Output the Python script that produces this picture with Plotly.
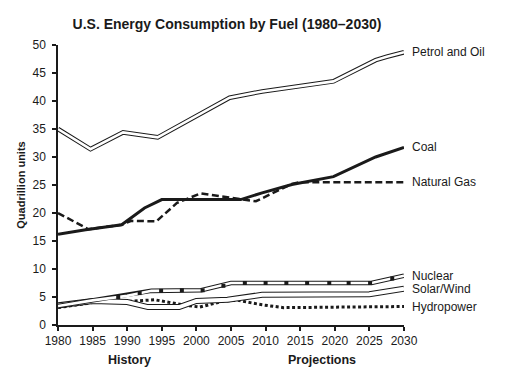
import plotly.graph_objects as go

# ---- data ----
petrol_years = [1980, 1984.7, 1989.4, 1994.4, 2004.8, 2009.5, 2019.8, 2025.9, 2027.5, 2030]
petrol_vals = [35.0, 31.4, 34.4, 33.5, 40.6, 41.7, 43.5, 47.3, 47.9, 48.7]

coal_years = [1980, 1984, 1989.2, 1992.5, 1995, 2006.4, 2009.5, 2013.8, 2019.8, 2025.9, 2030]
coal_vals = [16.2, 17.0, 17.9, 20.9, 22.4, 22.4, 23.6, 25.1, 26.5, 30.0, 31.7]

gas_years = [1980, 1984.4, 1989.2, 1990.6, 1994.2, 1997.2, 2000.6, 2006.7, 2008.6, 2013.8, 2015, 2030]
gas_vals = [20.0, 17.1, 17.9, 18.6, 18.5, 21.8, 23.5, 22.4, 22.1, 25.2, 25.5, 25.5]

nuclear_years = [1980, 1985, 1990, 1993.5, 2000.7, 2005, 2025.3, 2030]
nuclear_vals = [3.4, 4.4, 5.2, 6.1, 6.2, 7.5, 7.5, 8.8]
nuclear_mark_years = [1988.7, 1991.8, 1994.9, 1997.9, 2000.9, 2003.9, 2007, 2010, 2013,
                      2016, 2019.2, 2022, 2025.1, 2028.3]
nuclear_mark_vals = [5.0, 5.7, 6.1, 6.2, 6.2, 7.0, 7.5, 7.5, 7.5, 7.5, 7.5, 7.5, 7.5, 8.3]

solar_years = [1980, 1985, 1990, 1993, 1997.5, 2000, 2004.5, 2009.5, 2025, 2030]
solar_vals = [3.5, 4.3, 4.1, 3.2, 3.2, 4.3, 4.5, 5.4, 5.5, 6.5]

hydro_years = [1980, 1985, 1990, 1994, 1998, 2000.5, 2004, 2006, 2009.5, 2012.6, 2030]
hydro_vals = [3.1, 4.0, 4.2, 4.5, 3.6, 3.2, 4.3, 4.4, 3.6, 3.1, 3.3]

x_ticks = [1980, 1985, 1990, 1995, 2000, 2005, 2010, 2015, 2020, 2025, 2030]
y_ticks = [0, 5, 10, 15, 20, 25, 30, 35, 40, 45, 50]

labels = {
    "Petrol and Oil": petrol_vals[-1],
    "Coal": coal_vals[-1],
    "Natural Gas": gas_vals[-1],
    "Nuclear": nuclear_vals[-1],
    "Solar/Wind": solar_vals[-1],
    "Hydropower": hydro_vals[-1],
}

FONT = "Liberation Sans, Arial, Helvetica, sans-serif"
INK = "#1a1a1a"

# the page has an 8px body margin, so the figure is laid out 8px smaller
W, H = 510, 374
L, T, PW, PH = 44, 37, 352, 280

fig = go.Figure()


def double_line(xs, ys, outer, inner):
    fig.add_trace(go.Scatter(x=xs, y=ys, mode="lines", line=dict(color=INK, width=outer),
                             hoverinfo="skip", showlegend=False, cliponaxis=False))
    fig.add_trace(go.Scatter(x=xs, y=ys, mode="lines", line=dict(color="white", width=inner),
                             hoverinfo="skip", showlegend=False, cliponaxis=False))


# Hydropower (dotted)
fig.add_trace(go.Scatter(x=hydro_years, y=hydro_vals, mode="lines",
                         line=dict(color=INK, width=3, dash="3px,2.5px"),
                         showlegend=False, cliponaxis=False))
# Solar/Wind (hollow band)
double_line(solar_years, solar_vals, 6, 4)
# Nuclear (hollow band with squares)
double_line(nuclear_years, nuclear_vals, 4.6, 2.6)
fig.add_trace(go.Scatter(x=nuclear_mark_years, y=nuclear_mark_vals, mode="markers",
                         marker=dict(symbol="square", size=4, color=INK),
                         showlegend=False, cliponaxis=False))
# Natural gas (dashed)
fig.add_trace(go.Scatter(x=gas_years, y=gas_vals, mode="lines",
                         line=dict(color=INK, width=2.5, dash="7px,3.5px"),
                         showlegend=False, cliponaxis=False))
# Coal (solid)
fig.add_trace(go.Scatter(x=coal_years, y=coal_vals, mode="lines",
                         line=dict(color=INK, width=3),
                         showlegend=False, cliponaxis=False))
# Petrol and Oil (hollow band)
double_line(petrol_years, petrol_vals, 4.6, 2.6)

annotations = []
for name, yv in labels.items():
    annotations.append(dict(text=name, x=1.017, xref="paper", y=yv, yref="y",
                            xanchor="left", yanchor="middle", showarrow=False,
                            font=dict(family=FONT, size=12, color=INK)))

for txt, xv in (("<b>History</b>", 1990.3), ("<b>Projections</b>", 2018.1)):
    annotations.append(dict(text=txt, x=xv, xref="x", y=-35 / PH, yref="paper",
                            yanchor="middle", showarrow=False,
                            font=dict(family=FONT, size=12.5, color=INK)))

fig.update_layout(
    width=W, height=H,
    margin=dict(l=L, r=W - L - PW, t=T, b=H - T - PH),
    paper_bgcolor="white", plot_bgcolor="white",
    font=dict(family=FONT, size=12, color=INK),
    title=dict(text="<b>U.S. Energy Consumption by Fuel (1980–2030)</b>",
               x=219 / W, xref="container", xanchor="center",
               y=1 - 16 / H, yref="container", yanchor="middle",
               font=dict(family=FONT, size=14, color=INK)),
    xaxis=dict(range=[1980, 2030], tickvals=x_ticks, ticktext=[str(v) for v in x_ticks],
               showgrid=False, zeroline=False, showline=True, linecolor=INK, linewidth=1.5,
               ticks="outside", ticklen=4, tickwidth=1.5, tickcolor=INK,
               tickfont=dict(family=FONT, size=12, color=INK)),
    yaxis=dict(range=[0, 50], tickvals=y_ticks, showgrid=False, zeroline=False,
               showline=True, linecolor=INK, linewidth=1.5,
               ticks="outside", ticklen=4, tickwidth=1.5, tickcolor=INK,
               ticklabelstandoff=4,
               tickfont=dict(family=FONT, size=12, color=INK),
               title=dict(text="<b>Quadrillion units</b>", standoff=5,
                          font=dict(family=FONT, size=11, color=INK))),
    annotations=annotations,
)

fig.write_html("out.html")
